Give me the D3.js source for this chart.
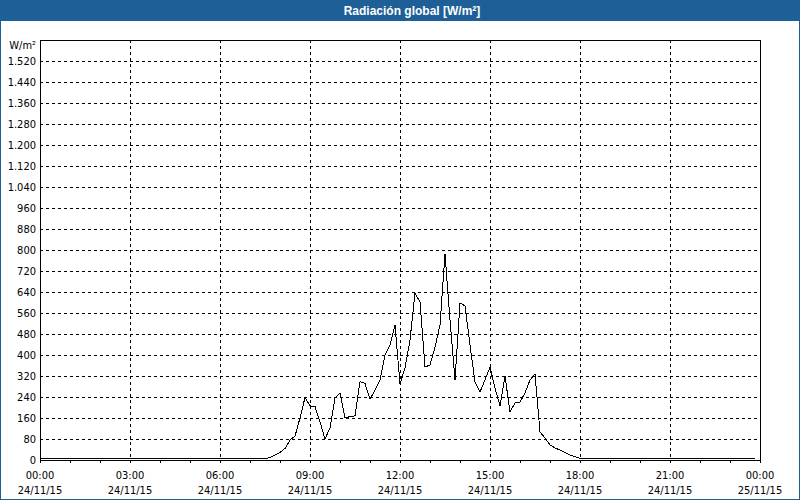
<!DOCTYPE html>
<html>
<head>
<meta charset="utf-8">
<script src="https://cdn.jsdelivr.net/npm/d3@7"></script>
<style>
  html, body { margin: 0; padding: 0; background: #ffffff; }
  svg { display: block; }
  text { font-family: Tahoma, "DejaVu Sans Condensed", "Liberation Sans", sans-serif; }
</style>
</head>
<body>
<svg id="chart" width="800" height="500"></svg>
<script>
// ---- data ----
const chartTitle = "Radiación global [W/m²]";
const unitLabel = "W/m²";
const dayDate = "2015-11-24";
const times = [
  "00:00","07:20",
  "07:30","07:40","07:50","08:00","08:10","08:20","08:30","08:40","08:50",
  "09:00","09:10","09:20","09:30","09:40","09:50",
  "10:00","10:10","10:20","10:30","10:40","10:50",
  "11:00","11:10","11:20","11:30","11:40","11:50",
  "12:00","12:10","12:20","12:30","12:40","12:50",
  "13:00","13:10","13:20","13:30","13:40","13:50",
  "14:00","14:10","14:20","14:30","14:40","14:50",
  "15:00","15:10","15:20","15:30","15:40","15:50",
  "16:00","16:10","16:20","16:30","16:40","16:50",
  "17:00","17:10","17:20","17:30","17:40","17:50",
  "18:00","23:50"
];
const values = [
  6, 6,
  5, 10, 19, 29, 44, 76, 91, 160, 238,
  206, 204, 145, 80, 122, 236,
  256, 161, 165, 168, 298, 292,
  231, 267, 305, 400, 438, 514,
  290, 350, 457, 636, 602, 354,
  362, 430, 514, 785, 533, 305,
  598, 587, 438, 297, 259, 305,
  354, 274, 206, 320, 183, 217,
  221, 255, 305, 328, 107, 84,
  57, 46, 38, 28, 19, 13,
  6, 6
];
const yTicks = [0,80,160,240,320,400,480,560,640,720,800,880,960,1040,1120,1200,1280,1360,1440,1520];
const yMax = 1600;
const xTickHours = ["2015-11-24T00:00","2015-11-24T03:00","2015-11-24T06:00","2015-11-24T09:00","2015-11-24T12:00","2015-11-24T15:00","2015-11-24T18:00","2015-11-24T21:00","2015-11-25T00:00"];

// ---- layout ----
const W = 800, H = 500;
const plot = {left: 40, top: 40, right: 760, bottom: 460};
const blue = "#1d5f96";

const svg = d3.select("#chart");
const parseT = d3.timeParse("%Y-%m-%dT%H:%M");
const data = times.map((t, i) => ({t: parseT(dayDate + "T" + t), v: values[i]}));

const x = d3.scaleTime()
  .domain([parseT("2015-11-24T00:00"), parseT("2015-11-25T00:00")])
  .range([plot.left, plot.right]);
const y = d3.scaleLinear().domain([0, yMax]).range([plot.bottom, plot.top]);

const esLocale = d3.formatLocale({decimal: ",", thousands: ".", grouping: [3], currency: ["", " €"]});
const yFmt = esLocale.format(",d");

// background + outer frame
svg.append("rect").attr("x", 0).attr("y", 0).attr("width", W).attr("height", H).attr("fill", "#ffffff");
svg.append("rect").attr("x", 0.5).attr("y", 0.5).attr("width", W - 1).attr("height", H - 1)
  .attr("fill", "none").attr("stroke", blue).attr("stroke-width", 1);
svg.append("rect").attr("x", 0).attr("y", 0).attr("width", W).attr("height", 21).attr("fill", blue);
svg.append("text").attr("x", 412).attr("y", 15).attr("text-anchor", "middle")
  .attr("fill", "#ffffff").attr("font-weight", "bold")
  .style("font-family", "'Liberation Sans', Arial, sans-serif")
  .attr("font-size", "12px").text(chartTitle);

// grid
const grid = svg.append("g").attr("shape-rendering", "crispEdges");
grid.selectAll("line.hg").data(yTicks.filter(d => d > 0)).join("line")
  .attr("x1", plot.left).attr("x2", plot.right)
  .attr("y1", d => Math.round(y(d)) + 0.5).attr("y2", d => Math.round(y(d)) + 0.5)
  .attr("stroke", "#000").attr("stroke-dasharray", "3,3");
const xTicks = xTickHours.map(s => parseT(s));
grid.selectAll("line.vg").data(xTicks.slice(1, -1)).join("line")
  .attr("y1", plot.top).attr("y2", plot.bottom)
  .attr("x1", d => Math.round(x(d)) + 0.5).attr("x2", d => Math.round(x(d)) + 0.5)
  .attr("stroke", "#000").attr("stroke-dasharray", "3,3");

// x axis (hourly ticks below frame, two-line labels)
const xAxis = d3.axisBottom(x).ticks(d3.timeHour.every(1)).tickSize(3).tickFormat("");
const gx = svg.append("g").attr("transform", `translate(0,${plot.bottom})`).attr("shape-rendering", "crispEdges").call(xAxis);
gx.select(".domain").remove();
gx.selectAll(".tick line").attr("stroke", "#000");
const lab = svg.append("g");
const fH = d3.timeFormat("%H:%M"), fD = d3.timeFormat("%d/%m/%y");
xTicks.forEach(d => {
  lab.append("text").attr("x", x(d)).attr("y", 479).attr("text-anchor", "middle")
    .attr("font-size", "11px").attr("fill", "#000").text(fH(d));
  lab.append("text").attr("x", x(d)).attr("y", 494).attr("text-anchor", "middle")
    .attr("font-size", "11px").attr("fill", "#000").text(fD(d));
});

// y axis labels
const yAxis = d3.axisLeft(y).tickValues(yTicks).tickSize(0).tickPadding(4).tickFormat(yFmt);
const gy = svg.append("g").attr("transform", `translate(${plot.left},0)`).call(yAxis);
gy.select(".domain").remove();
gy.selectAll(".tick text").attr("font-size", "11px").attr("fill", "#000")
  .style("font-family", "Tahoma, 'DejaVu Sans Condensed', 'Liberation Sans', sans-serif");
svg.append("text").attr("x", 36).attr("y", 49).attr("text-anchor", "end")
  .attr("font-size", "11px").attr("fill", "#000").text(unitLabel);

// data line
const line = d3.line().x(d => x(d.t)).y(d => y(d.v));
svg.append("path").datum(data).attr("d", line)
  .attr("fill", "none").attr("stroke", "#000").attr("stroke-width", 1)
  .attr("shape-rendering", "crispEdges");

// plot frame
svg.append("rect").attr("x", plot.left + 0.5).attr("y", plot.top + 0.5)
  .attr("width", plot.right - plot.left).attr("height", plot.bottom - plot.top)
  .attr("fill", "none").attr("stroke", "#000").attr("shape-rendering", "crispEdges");
</script>
</body>
</html>
